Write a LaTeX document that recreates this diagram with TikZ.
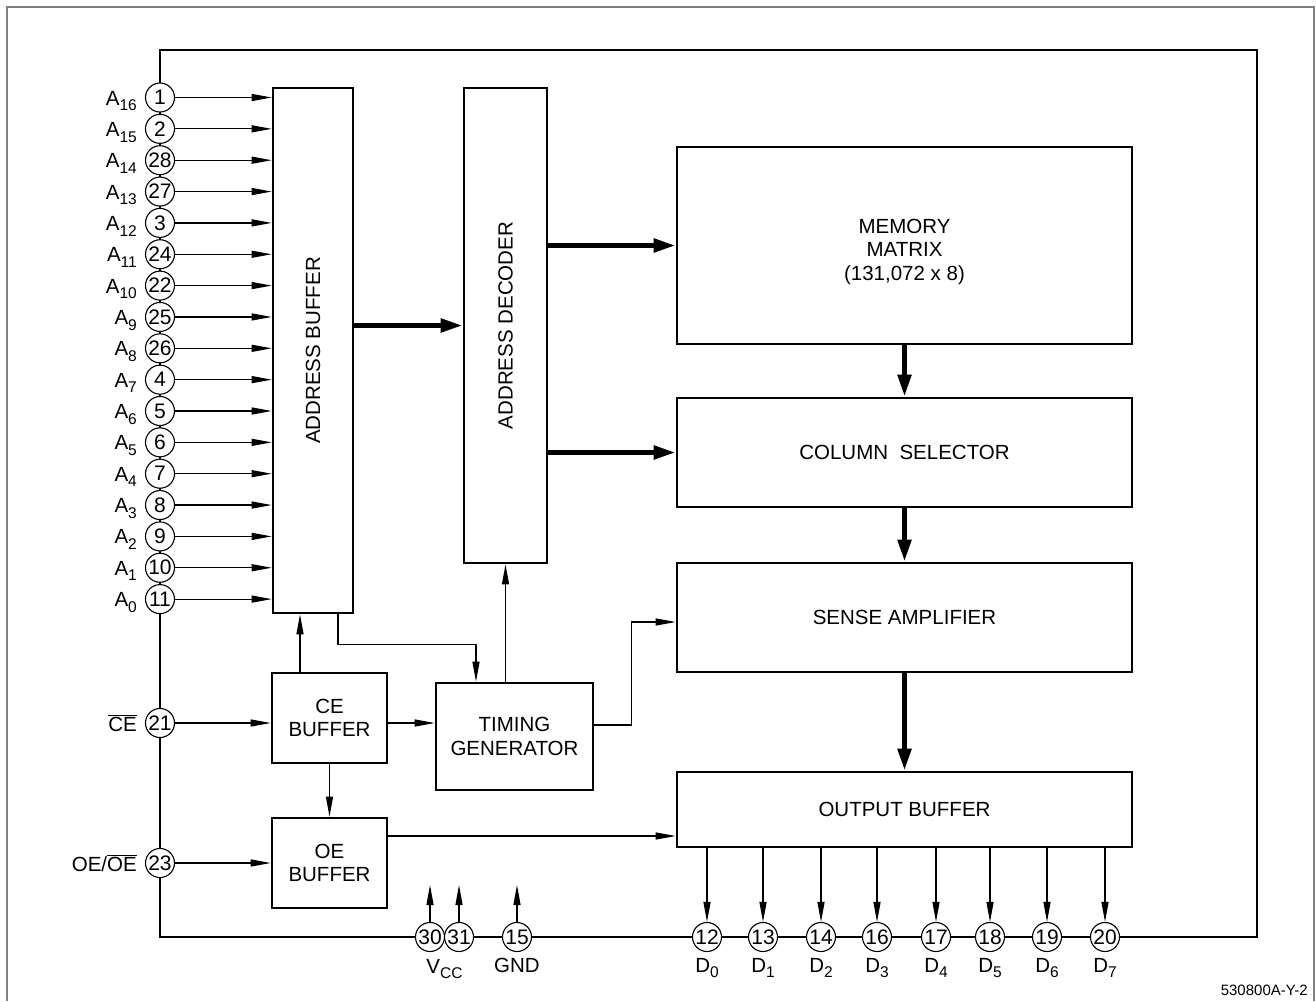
\documentclass[tikz,border=0pt]{standalone}
\usepackage{fontspec}
\setmainfont{Liberation Sans}
\usetikzlibrary{arrows.meta,calc}
\newcommand{\sbs}[1]{\raisebox{-0.28em}{\fontsize{15.5}{15.5}\selectfont #1}}
\begin{document}
\begin{tikzpicture}[x=1pt,y=-1pt,
  thinl/.style={line width=1.2pt},
  arr/.style={line width=1.2pt,-{Triangle[length=20pt,width=7pt]}},
  barr/.style={line width=5pt,-{Triangle[length=22pt,width=13pt]}},
  blk/.style={draw,line width=2.6pt,inner sep=0pt,font=\fontsize{20.5}{23.5}\selectfont,align=center},
  pinc/.style={circle,draw,fill=white,line width=1.1pt,minimum size=29pt,inner sep=0pt,font=\fontsize{21}{21}\selectfont},
  lbl/.style={inner sep=0pt,font=\fontsize{20.5}{20.5}\selectfont},
]
\useasboundingbox (0,0) rectangle (1316,1001);
\draw[line width=1.4pt, gray] (7,1001) -- (7,7) -- (1314,7) -- (1314,1001);
% chip outline
\draw[thinl] (160,97.5) -- (160,50) -- (1257,50) -- (1257,937) -- (160,937) -- cycle;
% blocks
\node[blk,minimum width=80pt,minimum height=525pt] (ab) at (313,350.5) {};
\node[lbl,rotate=90] (abt) at (ab.center) {ADDRESS BUFFER};
\node[blk,minimum width=83pt,minimum height=475pt] (dec) at (505.5,325.5) {};
\node[lbl,rotate=90] (dect) at (dec.center) {ADDRESS DECODER};
\node[blk,minimum width=455pt,minimum height=197pt] (mem) at (904.5,245.5) {};
\node[blk,draw=none,align=center] (memt) at (904.5,251.5) {MEMORY\\MATRIX\\(131,072 x 8)};
\node[blk,minimum width=455pt,minimum height=109pt] (col) at (904.5,452.5) {COLUMN\ \ SELECTOR};
\node[blk,minimum width=455pt,minimum height=109pt] (sa) at (904.5,617.5) {SENSE AMPLIFIER};
\node[blk,minimum width=455pt,minimum height=75pt] (ob) at (904.5,809.5) {OUTPUT BUFFER};
\node[blk,minimum width=115pt,minimum height=90pt] (ce) at (329.5,718) {CE\\BUFFER};
\node[blk,minimum width=115pt,minimum height=90pt] (oe) at (329.5,863) {OE\\BUFFER};
\node[blk,minimum width=157pt,minimum height=107pt] (tg) at (514.5,736.5) {TIMING\\GENERATOR};
% address pins
\foreach \num/\sub [count=\k from 0] in {1/16,2/15,28/14,27/13,3/12,24/11,22/10,25/9,26/8,4/7,5/6,6/5,7/4,8/3,9/2,10/1,11/0} {
  \node[pinc] (pa\k) at (160,97.5+\k*31.35) {\num};
  \node[lbl,anchor=base east] (la\k) at (137,105+\k*31.35) {A\sbs{\sub}};
  \draw[arr] (pa\k.east) -- (pa\k.east -| ab.west);
}
% control pins
\node[pinc] (p21) at (160,723) {21};
\node[lbl,anchor=base east] (l21) at (137,731) {$\overline{\mbox{CE}}$};
\node[pinc] (p23) at (160,863) {23};
\node[lbl,anchor=base east] (l23) at (137,871) {OE/$\overline{\mbox{OE}}$};
\draw[arr] (p21.east) -- (p21.east -| ce.west);
\draw[arr] (p23.east) -- (p23.east -| oe.west);
% data pins
\foreach \num/\sub/\x [count=\k from 0] in {12/0/707,13/1/763,14/2/821,16/3/877,17/4/936,18/5/990,19/6/1047,20/7/1105} {
  \node[pinc] (pd\k) at (\x,937) {\num};
  \node[lbl,anchor=base] (ld\k) at (\x,972) {D\sbs{\sub}};
  \draw[arr] (pd\k.north |- ob.south) -- (pd\k.north);
}
% power pins
\node[pinc] (p30) at (430,937) {30};
\node[pinc] (p31) at (459,937) {31};
\node[pinc] (p15) at (517,937) {15};
\coordinate (t30) at (430,885);
\coordinate (t31) at (459,885);
\coordinate (t15) at (517,885);
\draw[arr] (p30.north) -- (t30);
\draw[arr] (p31.north) -- (t31);
\draw[arr] (p15.north) -- (t15);
\node[lbl,anchor=base] (lvcc) at (444.5,973) {V\sbs{CC}};
\node[lbl,anchor=base] (lgnd) at (517,972) {GND};
% bus arrows
\draw[barr] (dec.west -| ab.east) -- (dec.west);
\draw[barr] (mem.west -| dec.east) -- (mem.west);
\draw[barr] (col.west -| dec.east) -- (col.west);
\draw[barr] (mem.south) -- (col.north);
\draw[barr] (col.south) -- (sa.north);
\draw[barr] (sa.south) -- (ob.north);
% control connections
\coordinate (cea) at ($(ce.north)+(-29.5,0)$);
\draw[arr] (cea) -- (cea |- ab.south);
\coordinate (abo) at ($(ab.south)+(25,0)$);
\coordinate (tgi) at ($(tg.north)+(-38.5,0)$);
\draw[arr] (abo) -- ++(0,30) -| (tgi);
\draw[arr] (tg.north -| dec.south) -- (dec.south);
\draw[arr] (ce.east |- p21) -- (tg.west |- p21);
\coordinate (tgo) at ($(tg.east)+(0,-11.5)$);
\coordinate (sai) at ($(sa.west)+(0,4.5)$);
\draw[arr] (tgo) -- ++(37,0) |- (sai);
\draw[arr] (ce.south) -- (oe.north);
\coordinate (oeo) at ($(oe.east)+(0,-27)$);
\draw[arr] (oeo) -- (oeo -| ob.west);
\node[inner sep=0pt,font=\fontsize{15}{15}\selectfont,anchor=base east] (code) at (1308,995) {530800A-Y-2};
\end{tikzpicture}
\end{document}
